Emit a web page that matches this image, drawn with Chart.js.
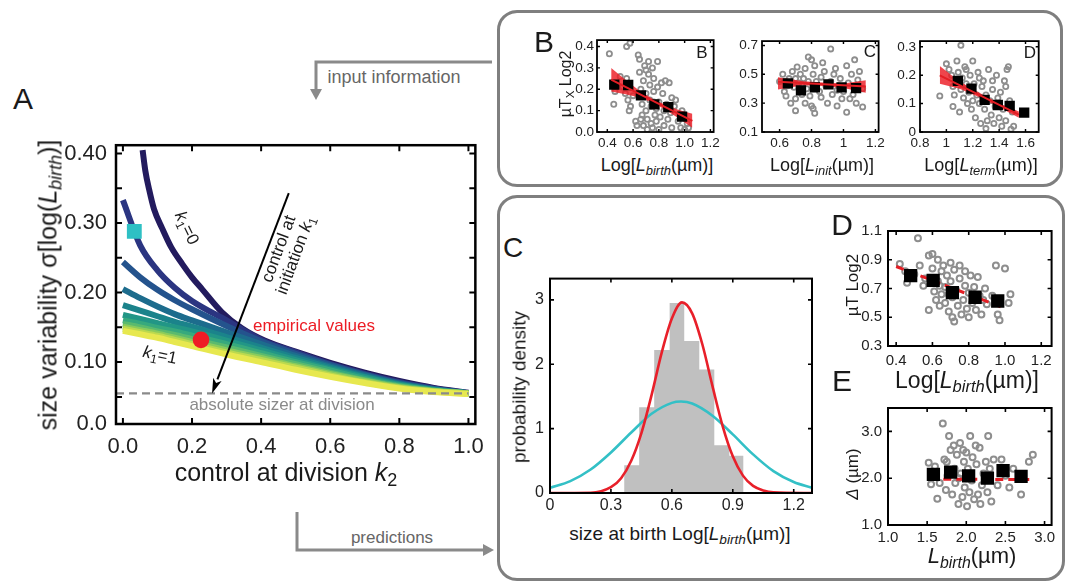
<!DOCTYPE html>
<html lang="en">
<head>
<meta charset="UTF-8">
<title>Size control model</title>
<script src="https://cdn.jsdelivr.net/npm/chart.js"></script>
<style>
  body { margin: 0; background: #fff; }
  #fig { position: relative; width: 1072px; height: 583px; overflow: hidden; background: #fff;
         font-family: 'Liberation Sans', Arial, sans-serif; color: #1a1a1a; }
  #fig canvas { position: absolute; }
  .box { position: absolute; border: 3px solid #7f7f7f; border-radius: 20px; box-sizing: border-box; }
  .t { position: absolute; white-space: nowrap; line-height: 1; transform: translate(-50%, -50%); }
  .t sub { font-size: 0.72em; vertical-align: -0.3em; line-height: 0; }
  svg { position: absolute; left: 0; top: 0; }
</style>
</head>
<body>
<div id="fig">
  <div class="box" style="left:497px;top:10px;width:566px;height:177px"></div>
  <div class="box" style="left:497px;top:195px;width:568px;height:386px"></div>
  <svg width="1072" height="583">
    <g stroke="#8a8a8a" stroke-width="3" fill="none">
      <path d="M492 62 H316 V90"/>
      <path d="M297 512 V550 H484"/>
    </g>
    <g fill="#8a8a8a">
      <polygon points="310,89 322,89 316,100"/>
      <polygon points="483,544 483,556 494,550"/>
    </g>
  </svg>

  <canvas id="chartA"></canvas>
  <canvas id="chartB1"></canvas>
  <canvas id="chartB2"></canvas>
  <canvas id="chartB3"></canvas>
  <canvas id="chartC"></canvas>
  <canvas id="chartD"></canvas>
  <canvas id="chartE"></canvas>

  <!-- panel A text -->
  <div class="t" style="left:23px;top:99px;font-size:30px">A</div>
  <div class="t" style="left:48px;top:285px;font-size:25px;transform:translate(-50%,-50%) rotate(-90deg)">size variability σ[log(<i>L</i><sub><i>birth</i></sub>)]</div>
  <div class="t" style="left:286px;top:472px;font-size:25px">control at division <i>k</i><sub>2</sub></div>
  <div class="t" style="left:187px;top:228px;font-size:17px;transform:translate(-50%,-50%) rotate(64deg)"><i>k</i><sub>1</sub>=0</div>
  <div class="t" style="left:160px;top:355px;font-size:17px;transform:translate(-50%,-50%) rotate(12deg)"><i>k</i><sub>1</sub>=1</div>
  <div class="t" style="left:287px;top:252px;font-size:17px;text-align:center;line-height:1.05;transform:translate(-50%,-50%) rotate(-69.6deg)">control at<br>initiation <i>k</i><sub>1</sub></div>
  <div class="t" style="left:253px;top:325px;font-size:17px;color:#ec1c24;transform:translate(0,-50%)">empirical values</div>
  <div class="t" style="left:282px;top:404px;font-size:17px;color:#8a8a8a">absolute sizer at division</div>
  <div class="t" style="left:394px;top:77px;font-size:18px;color:#666">input information</div>
  <div class="t" style="left:392px;top:537px;font-size:17px;color:#666">predictions</div>

  <!-- panel B text -->
  <div class="t" style="left:544px;top:42px;font-size:30px">B</div>
  <div class="t" style="left:566px;top:84px;font-size:16px;transform:translate(-50%,-50%) rotate(-90deg)">µT<sub>X</sub> Log2</div>
  <div class="t" style="left:657px;top:165px;font-size:18px">Log[<i>L</i><sub><i>birth</i></sub>(µm)]</div>
  <div class="t" style="left:822px;top:165px;font-size:18px">Log[<i>L</i><sub><i>init</i></sub>(µm)]</div>
  <div class="t" style="left:981px;top:165px;font-size:18px">Log[<i>L</i><sub><i>term</i></sub>(µm)]</div>
  <div class="t" style="left:702px;top:52px;font-size:17px">B</div>
  <div class="t" style="left:870px;top:51px;font-size:17px">C</div>
  <div class="t" style="left:1030px;top:52px;font-size:17px">D</div>

  <!-- panels C, D, E text -->
  <div class="t" style="left:513px;top:248px;font-size:28px">C</div>
  <div class="t" style="left:519px;top:387px;font-size:19px;transform:translate(-50%,-50%) rotate(-90deg)">probability density</div>
  <div class="t" style="left:680px;top:533px;font-size:19px">size at birth Log[<i>L</i><sub><i>birth</i></sub>(µm)]</div>
  <div class="t" style="left:842px;top:225px;font-size:30px">D</div>
  <div class="t" style="left:852px;top:285px;font-size:17px;transform:translate(-50%,-50%) rotate(-90deg)">µT Log2</div>
  <div class="t" style="left:967px;top:380px;font-size:23px">Log[<i>L</i><sub><i>birth</i></sub>(µm)]</div>
  <div class="t" style="left:842px;top:381px;font-size:30px">E</div>
  <div class="t" style="left:852px;top:474px;font-size:17px;transform:translate(-50%,-50%) rotate(-90deg)"><i>Δ</i> (µm)</div>
  <div class="t" style="left:972px;top:556px;font-size:22px"><i>L</i><sub><i>birth</i></sub>(µm)</div>
</div>

<script>
  const FONT = "'Liberation Sans', Arial, sans-serif";
  Chart.defaults.font.family = FONT;
  Chart.defaults.color = '#222';

  // ---- A: variability of log birth size against k2, one curve per k1 ----
  const k1Colors = ['#231b5e', '#2b3581', '#24538d', '#1d6c8d', '#1b838b', '#229686',
                    '#37a97d', '#5bba6e', '#8acb5c', '#bcd94f', '#e7e84f'];
  const k2K1Zero = [0.057, 0.065, 0.076, 0.09, 0.114, 0.14, 0.172, 0.2, 0.229, 0.286, 0.343, 0.41, 0.5, 0.6, 0.7, 0.8, 0.9, 1.0];
  const sigmaK1Zero = [0.405, 0.375, 0.348, 0.320, 0.292, 0.265, 0.241, 0.222, 0.205, 0.172, 0.149, 0.131, 0.115, 0.099, 0.085, 0.073, 0.063, 0.056];
  const k2Grid = [0, 0.05, 0.1, 0.15, 0.2, 0.3, 0.4, 0.5, 0.6, 0.7, 0.8, 0.9, 1.0];
  const sigmaK1_01 = [0.333, 0.268, 0.232, 0.207, 0.188, 0.160, 0.132, 0.114, 0.097, 0.083, 0.071, 0.062, 0.055];
  const sigmaK1_02 = [0.244, 0.222, 0.204, 0.189, 0.176, 0.152, 0.130, 0.112, 0.096, 0.082, 0.070, 0.061, 0.055];
  const sigmaK1_03 = [0.205, 0.192, 0.180, 0.169, 0.160, 0.143, 0.126, 0.109, 0.094, 0.081, 0.069, 0.061, 0.055];
  const sigmaK1_04 = [0.182, 0.174, 0.166, 0.158, 0.151, 0.136, 0.121, 0.106, 0.092, 0.079, 0.068, 0.060, 0.055];
  const sigmaK1_05 = [0.168, 0.162, 0.156, 0.150, 0.144, 0.131, 0.117, 0.103, 0.090, 0.078, 0.067, 0.060, 0.055];
  const sigmaK1_06 = [0.160, 0.155, 0.149, 0.144, 0.138, 0.126, 0.113, 0.100, 0.088, 0.076, 0.066, 0.059, 0.055];
  const sigmaK1_07 = [0.155, 0.150, 0.144, 0.139, 0.133, 0.121, 0.109, 0.097, 0.085, 0.074, 0.065, 0.059, 0.055];
  const sigmaK1_08 = [0.151, 0.146, 0.141, 0.135, 0.129, 0.117, 0.106, 0.094, 0.083, 0.073, 0.064, 0.058, 0.055];
  const sigmaK1_09 = [0.148, 0.143, 0.138, 0.132, 0.126, 0.114, 0.103, 0.092, 0.081, 0.071, 0.063, 0.058, 0.055];
  const sigmaK1_10 = [0.145, 0.140, 0.135, 0.129, 0.123, 0.111, 0.100, 0.089, 0.079, 0.070, 0.062, 0.057, 0.054];
  const sigmaCurves = [sigmaK1_01, sigmaK1_02, sigmaK1_03, sigmaK1_04, sigmaK1_05,
                       sigmaK1_06, sigmaK1_07, sigmaK1_08, sigmaK1_09, sigmaK1_10];
  const sizerK2 = [-0.02, 1.0];
  const sizerSigma = [0.055, 0.055];
  const modelK2 = [0.033], modelSigma = [0.288];
  const empiricalK2 = [0.226], empiricalSigma = [0.132];
  const arrowK2 = [0.48, 0.258], arrowSigma = [0.343, 0.055];
  const aXTicks = [0, 0.2, 0.4, 0.6, 0.8, 1.0];
  const aXLabels = ['0.0', '0.2', '0.4', '0.6', '0.8', '1.0'];
  const aYTicks = [0.011, 0.05, 0.10, 0.15, 0.20, 0.25, 0.30, 0.35, 0.40];
  const aYLabels = ['0.0', '', '0.10', '', '0.20', '', '0.30', '', '0.40'];

  // ---- B: growth rate x interdivision time against sizes ----
  const birthScatterB = [[0.416,0.366],[0.46,0.19],[0.45,0.13],[0.5,0.26],[0.52,0.21],[0.55,0.40],[0.575,0.415],[0.55,0.25],
    [0.56,0.15],[0.58,0.12],[0.54,0.18],[0.57,0.10],[0.6,0.17],[0.62,0.05],[0.63,0.03],[0.64,0.36],[0.65,0.34],[0.65,0.28],
    [0.66,0.2],[0.66,0.06],[0.67,0.13],[0.67,0.08],[0.68,0.03],[0.68,0.24],[0.69,0.31],[0.7,0.29],[0.7,0.18],[0.7,0.1],
    [0.71,0.06],[0.71,0.012],[0.72,0.33],[0.72,0.27],[0.73,0.22],[0.73,0.15],[0.74,0.04],[0.74,0.12],[0.75,0.3],[0.75,0.02],
    [0.76,0.25],[0.76,0.19],[0.76,0.14],[0.77,0.08],[0.78,0.11],[0.78,0.05],[0.79,0.21],[0.79,0.33],[0.8,0.14],[0.8,0.012],
    [0.81,0.07],[0.82,0.23],[0.83,0.18],[0.84,0.03],[0.84,0.1],[0.85,0.24],[0.86,0.13],[0.87,0.06],[0.88,0.23],[0.89,0.09],
    [0.9,0.16],[0.9,0.02],[0.92,0.12],[0.93,0.15],[0.95,0.05],[0.97,0.02],[0.98,0.1],[1.0,0.012],[1.02,0.04],[1.03,0.02]];
  const birthBinX = [0.454, 0.562, 0.661, 0.765, 0.873, 0.98];
  const birthBinY = [0.222, 0.22, 0.171, 0.129, 0.116, 0.072];
  const birthFit = [[0.43, 0.245], [1.06, 0.052]];
  const birthBandUp = [[0.43,0.30],[0.55,0.24],[0.65,0.193],[0.75,0.156],[0.85,0.128],[0.95,0.104],[1.06,0.085]];
  const birthBandLo = [[0.43,0.19],[0.55,0.176],[0.65,0.161],[0.75,0.138],[0.85,0.104],[0.95,0.066],[1.06,0.02]];

  const initScatterB = [[0.6,0.45],[0.62,0.5],[0.63,0.38],[0.64,0.35],[0.65,0.42],[0.66,0.47],[0.67,0.3],[0.68,0.52],
    [0.69,0.41],[0.7,0.33],[0.7,0.47],[0.71,0.55],[0.7,0.248],[0.72,0.44],[0.73,0.5],[0.74,0.36],[0.74,0.43],[0.75,0.47],
    [0.76,0.54],[0.76,0.3],[0.77,0.4],[0.78,0.62],[0.78,0.45],[0.79,0.35],[0.8,0.6],[0.8,0.28],[0.81,0.5],[0.81,0.263],
    [0.82,0.23],[0.82,0.56],[0.83,0.45],[0.85,0.38],[0.86,0.48],[0.86,0.34],[0.87,0.58],[0.88,0.52],[0.89,0.42],[0.9,0.3],
    [0.92,0.676],[0.92,0.45],[0.93,0.36],[0.94,0.5],[0.95,0.54],[0.96,0.39],[0.96,0.28],[0.97,0.42],[0.98,0.47],[0.99,0.33],
    [1.0,0.38],[1.02,0.237],[1.02,0.56],[1.03,0.44],[1.04,0.33],[1.05,0.5],[1.06,0.36],[1.07,0.6],[1.08,0.3],[1.09,0.46],
    [1.1,0.52],[1.12,0.274],[1.12,0.4]];
  const initBinX = [0.652, 0.734, 0.821, 0.906, 0.988, 1.079];
  const initBinY = [0.437, 0.389, 0.409, 0.43, 0.409, 0.404];
  const initFit = [[0.59, 0.448], [1.14, 0.415]];
  const initBandUp = [[0.59,0.48],[0.75,0.452],[0.87,0.443],[1.0,0.437],[1.14,0.458]];
  const initBandLo = [[0.59,0.395],[0.75,0.424],[0.87,0.419],[1.0,0.405],[1.14,0.372]];

  const termScatterB = [[0.95,0.127],[1.0,0.24],[1.02,0.22],[1.04,0.2],[1.05,0.16],[1.05,0.09],[1.06,0.13],[1.11,0.305],
    [1.08,0.25],[1.09,0.21],[1.1,0.07],[1.1,0.18],[1.11,0.15],[1.12,0.19],[1.13,0.12],[1.14,0.23],[1.15,0.17],[1.15,0.22],
    [1.16,0.1],[1.17,0.14],[1.18,0.2],[1.19,0.08],[1.2,0.25],[1.2,0.11],[1.21,0.17],[1.22,0.05],[1.23,0.13],[1.24,0.21],
    [1.25,0.1],[1.25,0.19],[1.26,0.03],[1.27,0.16],[1.28,0.18],[1.29,0.08],[1.3,0.13],[1.3,0.012],[1.31,0.04],[1.32,0.22],
    [1.33,0.11],[1.34,0.06],[1.35,0.15],[1.35,0.18],[1.36,0.03],[1.37,0.09],[1.38,0.2],[1.39,0.12],[1.4,0.05],[1.4,0.1],
    [1.41,0.14],[1.42,0.02],[1.43,0.08],[1.44,0.18],[1.45,0.04],[1.45,0.16],[1.46,0.22],[1.47,0.23],[1.48,0.11],[1.49,0.01],
    [1.5,0.07],[1.51,0.02]];
  const termBinX = [1.087, 1.19, 1.29, 1.39, 1.48, 1.59];
  const termBinY = [0.18, 0.153, 0.113, 0.095, 0.092, 0.068];
  const termFit = [[0.95, 0.199], [1.55, 0.061]];
  const termBandUp = [[0.95,0.232],[1.1,0.178],[1.25,0.138],[1.4,0.101],[1.55,0.072]];
  const termBandLo = [[0.95,0.17],[1.1,0.152],[1.25,0.122],[1.4,0.087],[1.55,0.05]];

  // ---- C: distribution of log birth size ----
  const histEdges = [0.365, 0.439, 0.513, 0.589, 0.661, 0.735, 0.809, 0.883, 0.953];
  const histDensity = [0.43, 1.33, 2.22, 2.95, 2.36, 1.92, 0.74, 0.58];
  const redX = [0, 0.2, 0.3, 0.35, 0.4, 0.45, 0.5, 0.55, 0.6, 0.65, 0.7, 0.75, 0.8, 0.85, 0.9, 0.95, 1.0, 1.05, 1.1, 1.29];
  const redDensity = [0, 0.003, 0.09, 0.23, 0.50, 0.93, 1.52, 2.18, 2.71, 2.96, 2.79, 2.31, 1.66, 1.04, 0.57, 0.27, 0.11, 0.04, 0.01, 0];
  const cyanX = [0, 0.1, 0.2, 0.3, 0.4, 0.5, 0.6, 0.645, 0.7, 0.8, 0.9, 1.0, 1.1, 1.2, 1.29];
  const cyanDensity = [0.08, 0.185, 0.365, 0.63, 0.94, 1.23, 1.40, 1.42, 1.39, 1.20, 0.91, 0.60, 0.34, 0.17, 0.082];

  // ---- D, E: predicted dependence on birth size ----
  const dScatter = [[0.42,0.87],[0.45,0.82],[0.46,0.74],[0.5,0.80],[0.52,1.05],[0.53,0.86],[0.55,0.72],[0.56,0.77],
    [0.58,0.93],[0.58,0.55],[0.6,0.94],[0.6,0.84],[0.61,0.68],[0.62,0.62],[0.63,0.90],[0.63,0.75],[0.64,0.58],[0.64,0.72],
    [0.65,0.82],[0.65,0.66],[0.66,0.86],[0.67,0.71],[0.67,0.6],[0.68,0.79],[0.69,0.54],[0.69,0.66],[0.7,0.88],[0.7,0.75],
    [0.71,0.64],[0.71,0.5],[0.72,0.83],[0.72,0.47],[0.73,0.69],[0.74,0.58],[0.75,0.86],[0.75,0.77],[0.76,0.52],[0.77,0.62],
    [0.78,0.72],[0.78,0.82],[0.79,0.56],[0.8,0.67],[0.8,0.5],[0.81,0.79],[0.82,0.6],[0.83,0.71],[0.84,0.55],[0.85,0.78],
    [0.86,0.65],[0.87,0.52],[0.88,0.62],[0.89,0.7],[0.9,0.59],[0.93,0.65],[0.95,0.86],[0.96,0.52],[0.97,0.48],[1.0,0.84],
    [1.02,0.6],[1.03,0.66]];
  const dBinX = [0.48, 0.604, 0.71, 0.835, 0.96];
  const dBinY = [0.789, 0.757, 0.671, 0.639, 0.613];
  const dFit = [[0.40, 0.853], [0.995, 0.564]];

  const eScatter = [[1.52,2.33],[1.55,1.87],[1.6,2.25],[1.63,1.56],[1.66,1.9],[1.7,3.17],[1.72,2.4],[1.74,1.75],[1.75,2.35],
    [1.76,2.05],[1.78,2.9],[1.8,2.6],[1.82,1.65],[1.84,2.7],[1.85,2.2],[1.86,1.9],[1.88,2.5],[1.9,1.45],[1.9,2.0],[1.92,2.75],
    [1.93,2.1],[1.95,1.6],[1.96,2.6],[1.97,2.35],[1.98,1.8],[2.0,2.55],[2.0,2.0],[2.01,1.4],[2.02,2.2],[2.04,1.7],[2.05,2.9],
    [2.07,1.95],[2.08,2.45],[2.1,1.55],[2.12,2.7],[2.13,2.3],[2.15,1.65],[2.17,2.65],[2.18,1.45],[2.2,1.85],[2.22,2.1],
    [2.25,2.35],[2.27,1.7],[2.28,2.9],[2.3,2.2],[2.32,1.5],[2.35,2.4],[2.4,1.85],[2.45,2.4],[2.5,2.05],[2.55,1.8],[2.6,2.2],
    [2.7,1.65],[2.8,2.35],[2.85,2.5]];
  const eBinX = [1.58, 1.8, 2.03, 2.27, 2.47, 2.7];
  const eBinY = [2.08, 2.13, 2.05, 2.0, 2.16, 2.04];
  const eFit = [[1.54, 1.98], [2.82, 1.97]];

  // ---------- helpers ----------
  function mount(id, frame, pad) {
    const c = document.getElementById(id);
    const w = frame[2] - frame[0] + pad[0] + pad[2];
    const h = frame[3] - frame[1] + pad[1] + pad[3];
    c.width = w; c.height = h;
    c.style.left = (frame[0] - pad[0]) + 'px';
    c.style.top = (frame[1] - pad[1]) + 'px';
    c.style.width = w + 'px'; c.style.height = h + 'px';
    return c;
  }

  function linAxis(min, max, vals, labels, size, pad, fit, horiz) {
    return {
      type: 'linear', min: min, max: max,
      grid: { display: false, drawTicks: false },
      border: { display: false },
      afterBuildTicks: s => { s.ticks = vals.map(v => ({ value: v })); },
      afterFit: s => { if (horiz) s.height = fit; else s.width = fit; },
      ticks: { autoSkip: false, maxRotation: 0, padding: pad, color: '#222',
               font: { size: size }, callback: (v, i) => labels[i] }
    };
  }

  // box round the plot area with inward ticks on all four sides
  function drawFrame(chart, lw, len) {
    const ctx = chart.ctx, a = chart.chartArea;
    const xs = chart.scales.x, ys = chart.scales.y;
    ctx.save();
    ctx.strokeStyle = '#000';
    ctx.lineWidth = lw * 0.8;
    ctx.beginPath();
    xs.ticks.forEach(t => {
      const p = xs.getPixelForValue(t.value);
      ctx.moveTo(p, a.bottom); ctx.lineTo(p, a.bottom - len);
      ctx.moveTo(p, a.top); ctx.lineTo(p, a.top + len);
    });
    ys.ticks.forEach(t => {
      const p = ys.getPixelForValue(t.value);
      ctx.moveTo(a.left, p); ctx.lineTo(a.left + len, p);
      ctx.moveTo(a.right, p); ctx.lineTo(a.right - len, p);
    });
    ctx.stroke();
    ctx.lineWidth = lw;
    ctx.strokeRect(a.left, a.top, a.right - a.left, a.bottom - a.top);
    ctx.restore();
  }

  function makeChart(id, frame, pad, xAx, yAx, datasets, lw, len, extraDraw) {
    const c = mount(id, frame, pad);
    return new Chart(c, {
      type: 'scatter',
      data: { datasets: datasets },
      options: {
        responsive: false, animation: false, events: [],
        layout: { padding: { left: 0, top: pad[1], right: pad[2], bottom: 0 } },
        plugins: { legend: { display: false }, tooltip: { enabled: false } },
        scales: { x: xAx, y: yAx }
      },
      plugins: [{
        id: 'boxAxes' + id,
        afterDatasetsDraw(chart) {
          if (extraDraw) extraDraw(chart);
          drawFrame(chart, lw, len);
        }
      }]
    });
  }

  const pts = arr => arr.map(p => ({ x: p[0], y: p[1] }));
  const zip = (xs, ys) => xs.map((x, i) => ({ x: x, y: ys[i] }));

  function ringSet(data, r, bw) {
    return { data: pts(data), pointRadius: r, borderWidth: bw, borderColor: '#8e8e8e',
             backgroundColor: 'rgba(0,0,0,0)', order: 5 };
  }
  function binSet(xs, ys, r) {
    return { data: zip(xs, ys), pointStyle: 'rect', pointRadius: r, backgroundColor: '#000',
             borderWidth: 0, order: 2 };
  }
  function fitSet(data, w, dash, order) {
    return { type: 'line', data: pts(data), borderColor: '#e31e24', borderWidth: w,
             borderDash: dash, pointRadius: 0, fill: false, order: order };
  }
  function bandSets(up, lo) {
    return [
      { type: 'line', data: pts(up), fill: '+1', backgroundColor: 'rgba(236,28,36,0.82)',
        borderWidth: 0, pointRadius: 0, order: 3 },
      { type: 'line', data: pts(lo), fill: false, borderWidth: 0, pointRadius: 0, order: 3 }
    ];
  }

  // ---------- A ----------
  const aSets = [{ data: zip(k2K1Zero, sigmaK1Zero), borderColor: k1Colors[0], order: 30 }];
  sigmaCurves.forEach((s, i) => aSets.push({ data: zip(k2Grid, s), borderColor: k1Colors[i + 1], order: 29 - i }));
  aSets.forEach(d => Object.assign(d, { type: 'line', borderWidth: 6, pointRadius: 0, fill: false,
                                        cubicInterpolationMode: 'monotone', borderCapStyle: 'butt' }));
  aSets.push({ type: 'line', data: zip(sizerK2, sizerSigma), borderColor: '#8a8a8a', borderWidth: 2.2,
               borderDash: [8, 5], pointRadius: 0, fill: false, order: 3 });
  aSets.push({ data: zip(modelK2, modelSigma), pointStyle: 'rect', pointRadius: 10.5,
               backgroundColor: '#2ec0c4', borderWidth: 0, order: 2 });
  aSets.push({ data: zip(empiricalK2, empiricalSigma), pointRadius: 8.3,
               backgroundColor: '#ee1c25', borderWidth: 0, order: 1 });

  function drawArrowA(chart) {
    const ctx = chart.ctx, x = chart.scales.x, y = chart.scales.y;
    const x0 = x.getPixelForValue(arrowK2[0]), y0 = y.getPixelForValue(arrowSigma[0]);
    const x1 = x.getPixelForValue(arrowK2[1]), y1 = y.getPixelForValue(arrowSigma[1]);
    const ang = Math.atan2(y1 - y0, x1 - x0), head = 15, half = 4.5;
    const c = Math.cos(ang), s = Math.sin(ang);
    ctx.save();
    ctx.strokeStyle = '#000'; ctx.fillStyle = '#000'; ctx.lineWidth = 2;
    ctx.beginPath(); ctx.moveTo(x0, y0); ctx.lineTo(x1 - head * c, y1 - head * s); ctx.stroke();
    ctx.beginPath(); ctx.moveTo(x1, y1);
    ctx.lineTo(x1 - head * c + half * s, y1 - head * s - half * c);
    ctx.lineTo(x1 - head * 0.75 * c, y1 - head * 0.75 * s);
    ctx.lineTo(x1 - head * c - half * s, y1 - head * s + half * c);
    ctx.closePath(); ctx.fill();
    ctx.restore();
  }

  const padA = [62, 10, 14, 40];
  makeChart('chartA', [116, 133, 480, 424], padA,
    linAxis(-0.02, 1.02, aXTicks, aXLabels, 22, 10, padA[3], true),
    linAxis(0.011, 0.412, aYTicks, aYLabels, 22, 9, padA[0], false),
    aSets, 2.5, 6, drawArrowA);

  // ---------- B ----------
  const padB = [45, 6, 6, 22];
  makeChart('chartB1', [597, 35, 717, 132], padB,
    linAxis(0.32, 1.225, [0.4, 0.6, 0.8, 1.0, 1.2], ['0.4', '0.6', '0.8', '1.0', '1.2'], 13.5, 3, padB[3], true),
    linAxis(0, 0.43, [0, 0.1, 0.2, 0.3, 0.4], ['0.0', '0.1', '0.2', '0.3', '0.4'], 13.5, 3, padB[0], false),
    [ringSet(birthScatterB, 2.6, 1.8), ...bandSets(birthBandUp, birthBandLo),
     binSet(birthBinX, birthBinY, 7.3), fitSet(birthFit, 2, [], 1)], 1.8, 3);

  makeChart('chartB2', [762, 35, 882, 132], padB,
    linAxis(0.49, 1.22, [0.6, 0.8, 1.0, 1.2], ['0.6', '0.8', '1', '1.2'], 13.5, 3, padB[3], true),
    linAxis(0.1, 0.73, [0.1, 0.3, 0.5, 0.7], ['0.1', '0.3', '0.5', '0.7'], 13.5, 4, padB[0], false),
    [ringSet(initScatterB, 2.6, 1.8), ...bandSets(initBandUp, initBandLo),
     binSet(initBinX, initBinY, 7.3), fitSet(initFit, 2, [], 1)], 1.8, 3);

  makeChart('chartB3', [920, 35, 1040, 132], padB,
    linAxis(0.8, 1.7, [0.8, 1.0, 1.2, 1.4, 1.6], ['0.8', '1', '1.2', '1.4', '1.6'], 13.5, 3, padB[3], true),
    linAxis(0, 0.32, [0, 0.1, 0.2, 0.3], ['0', '0.1', '0.2', '0.3'], 13.5, 4, padB[0], false),
    [ringSet(termScatterB, 2.6, 1.8), ...bandSets(termBandUp, termBandLo),
     binSet(termBinX, termBinY, 7.3), fitSet(termFit, 2, [], 1)], 1.8, 3);

  // ---------- C ----------
  const histPts = [{ x: histEdges[0], y: 0 }].concat(histEdges.slice(1).map((e, i) => ({ x: e, y: histDensity[i] })));
  const padC = [35, 6, 8, 26];
  makeChart('chartC', [550, 269, 812, 493], padC,
    linAxis(0, 1.29, [0, 0.3, 0.6, 0.9, 1.2], ['0', '0.3', '0.6', '0.9', '1.2'], 16, 3, padC[3], true),
    linAxis(0, 3.33, [0, 1, 2, 3], ['0', '1', '2', '3'], 16, 6, padC[0], false),
    [{ type: 'line', data: histPts, stepped: 'after', fill: 'origin', backgroundColor: '#c0c0c0',
       borderWidth: 0, pointRadius: 0, order: 3 },
     { type: 'line', data: zip(cyanX, cyanDensity), borderColor: '#33c0c6', borderWidth: 2.6,
       cubicInterpolationMode: 'monotone', pointRadius: 0, fill: false, order: 2 },
     { type: 'line', data: zip(redX, redDensity), borderColor: '#e8202a', borderWidth: 2.6,
       cubicInterpolationMode: 'monotone', pointRadius: 0, fill: false, order: 1 }], 2, 4);

  // ---------- D ----------
  const padD = [40, 6, 4, 22];
  makeChart('chartD', [888, 222, 1057, 346], padD,
    linAxis(0.355, 1.257, [0.4, 0.6, 0.8, 1.0, 1.2], ['0.4', '0.6', '0.8', '1.0', '1.2'], 15, 6, padD[3], true),
    linAxis(0.3, 1.1, [0.3, 0.5, 0.7, 0.9, 1.1], ['0.3', '0.5', '0.7', '0.9', '1.1'], 15, 6, padD[0], false),
    [ringSet(dScatter, 3, 2), fitSet(dFit, 3, [8, 5], 3), binSet(dBinX, dBinY, 9.4)], 2, 4);

  // ---------- E ----------
  makeChart('chartE', [888, 399, 1057, 525], padD,
    linAxis(1.0, 3.09, [1.0, 1.5, 2.0, 2.5, 3.0], ['1.0', '1.5', '2.0', '2.5', '3.0'], 15, 4, padD[3], true),
    linAxis(1.0, 3.5, [1.0, 2.0, 3.0], ['1.0', '2.0', '3.0'], 15, 6, padD[0], false),
    [ringSet(eScatter, 3, 2), fitSet(eFit, 3, [8, 5], 3), binSet(eBinX, eBinY, 9.4)], 2, 4);
</script>
</body>
</html>
